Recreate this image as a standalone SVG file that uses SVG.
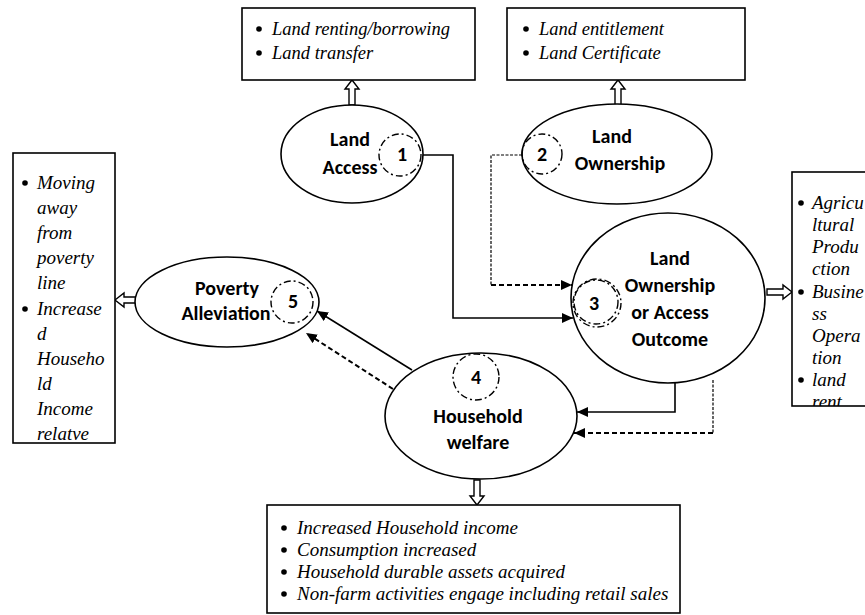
<svg xmlns="http://www.w3.org/2000/svg" xmlns:xlink="http://www.w3.org/1999/xlink" width="865" height="615" viewBox="0 0 865 615">
<style>
.box{fill:#fff;stroke:#000;stroke-width:1.6}
.ell{fill:#fff;stroke:#000;stroke-width:1.6}
.num{fill:none;stroke:#000;stroke-width:1.4;stroke-dasharray:7 3 2 3}
.lbl{font-family:Carlito,Lato,"Liberation Sans",sans-serif;font-weight:bold;font-size:20px;text-anchor:middle;fill:#000}
.it{font-family:"Liberation Serif","Times New Roman",serif;font-style:italic;font-size:19px;fill:#000}
.it2{font-family:"Liberation Serif","Times New Roman",serif;font-style:italic;font-size:18.5px;fill:#000}
.bul{fill:#000}
.solid{fill:none;stroke:#000;stroke-width:1.6}
.dash{fill:none;stroke:#000;stroke-width:2;stroke-dasharray:5 3}
.dot{fill:none;stroke:#000;stroke-width:1.2;stroke-dasharray:3 1.5}
.hol{fill:#fff;stroke:#000;stroke-width:1.4}
</style>
<defs>
<marker id="ah" markerUnits="userSpaceOnUse" markerWidth="12" markerHeight="10" refX="11" refY="5" orient="auto">
<path d="M0,0 L11,5 L0,10 z" fill="#000"/>
</marker>
<path id="harrow" d="M0,0 L7,9 L3,9 L3,25 L-3,25 L-3,9 L-7,9 Z"/>
<clipPath id="clipL"><rect x="13" y="153" width="102" height="290"/></clipPath>
<clipPath id="clipR"><rect x="792" y="172" width="90" height="234"/></clipPath>
</defs>

<rect width="865" height="615" fill="#fff"/>

<g id="connectors">
<polyline class="solid" points="423,155 453,155 453,318 573,318" marker-end="url(#ah)"/>
<polyline class="dot" points="522,155 491,155 491,285"/>
<polyline class="dash" points="491,285 572,285" marker-end="url(#ah)"/>
<polyline class="solid" points="675,383 675,412 577,412" marker-end="url(#ah)"/>
<polyline class="dot" points="713,380 713,433"/>
<polyline class="dash" points="713,433 574,433" marker-end="url(#ah)"/>
<line class="solid" x1="412" y1="370" x2="317" y2="311" marker-end="url(#ah)"/>
<line class="dash" x1="393" y1="389" x2="306" y2="333" marker-end="url(#ah)"/>
<use xlink:href="#harrow" class="hol" transform="translate(352,80)"/>
<use xlink:href="#harrow" class="hol" transform="translate(618,80)"/>
<use xlink:href="#harrow" class="hol" transform="translate(792,292) rotate(90)"/>
<use xlink:href="#harrow" class="hol" transform="translate(115,300) rotate(-90)"/>
<use xlink:href="#harrow" class="hol" transform="translate(477,505) rotate(180)"/>
</g>

<g id="box-access">
<rect class="box" x="242" y="8" width="233" height="72"/>
<circle class="bul" cx="259" cy="29" r="2.8"/>
<text class="it2" x="272" y="35">Land renting/borrowing</text>
<circle class="bul" cx="259" cy="53" r="2.8"/>
<text class="it2" x="272" y="59">Land transfer</text>
</g>

<g id="box-ownership">
<rect class="box" x="507" y="8" width="238" height="72"/>
<circle class="bul" cx="526" cy="29" r="2.8"/>
<text class="it2" x="539" y="35">Land entitlement</text>
<circle class="bul" cx="526" cy="53" r="2.8"/>
<text class="it2" x="539" y="59">Land Certificate</text>
</g>

<g id="box-poverty">
<rect class="box" x="13" y="153" width="102" height="290"/>
<g clip-path="url(#clipL)">
<circle class="bul" cx="25" cy="183" r="2.8"/>
<text class="it" x="37" y="189">Moving</text>
<text class="it" x="37" y="214">away</text>
<text class="it" x="37" y="239">from</text>
<text class="it" x="37" y="264">poverty</text>
<text class="it" x="37" y="289">line</text>
<circle class="bul" cx="25" cy="309" r="2.8"/>
<text class="it" x="37" y="315">Increase</text>
<text class="it" x="37" y="340">d</text>
<text class="it" x="37" y="365">Househo</text>
<text class="it" x="37" y="390">ld</text>
<text class="it" x="37" y="415">Income</text>
<text class="it" x="37" y="440">relatve</text>
</g>
</g>

<g id="box-outcome">
<rect class="box" x="792" y="172" width="90" height="234"/>
<g clip-path="url(#clipR)">
<circle class="bul" cx="801" cy="203" r="2.8"/>
<text class="it" x="812" y="209">Agricu</text>
<text class="it" x="812" y="231">ltural</text>
<text class="it" x="812" y="253">Produ</text>
<text class="it" x="812" y="275">ction</text>
<circle class="bul" cx="801" cy="292" r="2.8"/>
<text class="it" x="812" y="298">Busine</text>
<text class="it" x="812" y="320">ss</text>
<text class="it" x="812" y="342">Opera</text>
<text class="it" x="812" y="364">tion</text>
<circle class="bul" cx="801" cy="380" r="2.8"/>
<text class="it" x="812" y="386">land</text>
<text class="it" x="812" y="408">rent</text>
</g>
</g>

<g id="box-welfare">
<rect class="box" x="267" y="505" width="413" height="108"/>
<circle class="bul" cx="284" cy="528" r="2.8"/>
<text class="it" x="297" y="534">Increased Household income</text>
<circle class="bul" cx="284" cy="550" r="2.8"/>
<text class="it" x="297" y="556">Consumption increased</text>
<circle class="bul" cx="284" cy="572" r="2.8"/>
<text class="it" x="297" y="578">Household durable assets acquired</text>
<circle class="bul" cx="284" cy="594" r="2.8"/>
<text class="it" x="297" y="600">Non-farm activities engage including retail sales</text>
</g>

<g id="node-land-access">
<ellipse class="ell" cx="352" cy="154" rx="71" ry="49"/>
<circle class="num" cx="400" cy="155" r="21"/>
<text class="lbl" x="350" y="146">Land</text>
<text class="lbl" x="350" y="174">Access</text>
<text class="lbl" x="402" y="161">1</text>
</g>

<g id="node-land-ownership">
<ellipse class="ell" cx="617" cy="154" rx="95" ry="50"/>
<circle class="num" cx="542" cy="154" r="20"/>
<text class="lbl" x="612" y="143">Land</text>
<text class="lbl" x="620" y="170">Ownership</text>
<text class="lbl" x="542" y="161">2</text>
</g>

<g id="node-outcome">
<ellipse class="ell" cx="668" cy="298" rx="97" ry="85"/>
<circle class="num" cx="597" cy="303" r="24"/>
<circle class="num" cx="596" cy="302" r="22" stroke-width="1"/>
<text class="lbl" x="670" y="265">Land</text>
<text class="lbl" x="670" y="292">Ownership</text>
<text class="lbl" x="670" y="319">or Access</text>
<text class="lbl" x="670" y="346">Outcome</text>
<text class="lbl" x="594" y="310">3</text>
</g>

<g id="node-welfare">
<ellipse class="ell" cx="481" cy="416" rx="96" ry="63"/>
<circle class="num" cx="476" cy="377" r="23"/>
<text class="lbl" x="478" y="423">Household</text>
<text class="lbl" x="478" y="449">welfare</text>
<text class="lbl" x="476" y="384">4</text>
</g>

<g id="node-poverty">
<ellipse class="ell" cx="227" cy="302" rx="92" ry="45"/>
<circle class="num" cx="292" cy="302" r="21"/>
<text class="lbl" x="227" y="295">Poverty</text>
<text class="lbl" x="226" y="320">Alleviation</text>
<text class="lbl" x="293" y="308">5</text>
</g>
</svg>
